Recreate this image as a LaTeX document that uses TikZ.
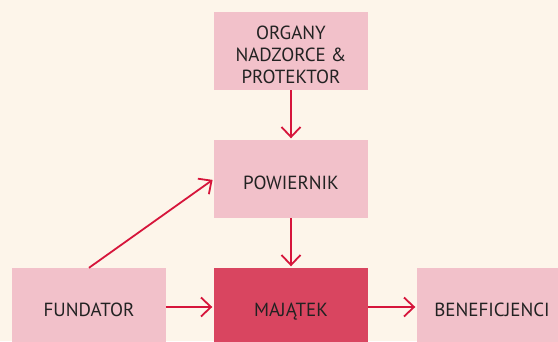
\documentclass[tikz,border=0pt]{standalone}
\usepackage{fontspec}
\setmainfont{PT Sans}
\usetikzlibrary{arrows.meta}
\definecolor{bg}{HTML}{FDF5EA}
\definecolor{lightpink}{HTML}{F2C1CA}
\definecolor{darkpink}{HTML}{D94560}
\definecolor{arrowred}{HTML}{D6153B}
\definecolor{ink}{HTML}{222222}
\begin{document}
\begin{tikzpicture}[x=1pt,y=-1pt,
  box/.style={fill=lightpink, draw=none, minimum width=154pt, minimum height=78pt, inner sep=0pt},
  txt/.style={font=\fontsize{19}{21.7}\selectfont, text=ink, inner sep=0pt, align=center, anchor=base},
  arr/.style={draw=arrowred, line width=1.8pt, shorten >=1.5pt,
    -{Straight Barb[length=10pt,width=19pt,line width=1.8pt]}}]
\useasboundingbox (0,0) rectangle (558,341);
\clip (0,0) rectangle (558,341);
\fill[bg] (0,0) rectangle (558,341);
% boxes
\node[box] (org) at (291,51) {};
\node[box] (pow) at (291,179) {};
\node[box] (fun) at (89,307) {};
\node[box, fill=darkpink] (maj) at (291,307) {};
\node[box] (ben) at (494,307) {};
% texts
\node[txt] (orgt) at (291,83.3) {ORGANY\\NADZORCE \&\\PROTEKTOR};
\node[txt] (powt) at (291,189) {POWIERNIK};
\node[txt] (funt) at (89,316) {FUNDATOR};
\node[txt] (majt) at (291,316) {MAJĄTEK};
\node[txt] (bent) at (492,316) {BENEFICJENCI};
% connectors
\draw[arr] (org) -- (pow);
\draw[arr] (pow) -- (maj);
\draw[arr] (fun) -- (maj);
\draw[arr] (maj) -- (ben);
\draw[arr] (fun.north) -- (pow.west);
\end{tikzpicture}
\end{document}
